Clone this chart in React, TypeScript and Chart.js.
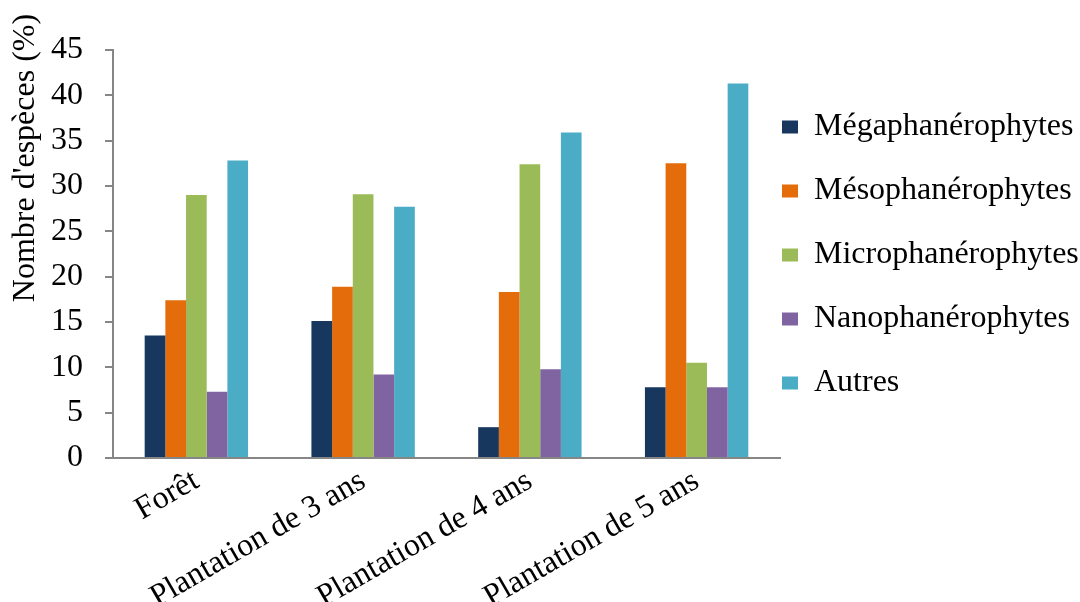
import React, { useEffect, useRef } from 'react';
import { Chart, registerables } from 'chart.js';

Chart.register(...registerables);

const categories = ['Forêt', 'Plantation de 3 ans', 'Plantation de 4 ans', 'Plantation de 5 ans'];
const seriesNames = ['Mégaphanérophytes', 'Mésophanérophytes', 'Microphanérophytes', 'Nanophanérophytes', 'Autres'];
const megaphanerophytes = [13.5, 15.1, 3.4, 7.8];
const mesophanerophytes = [17.4, 18.9, 18.3, 32.5];
const microphanerophytes = [29.0, 29.1, 32.4, 10.5];
const nanophanerophytes = [7.3, 9.2, 9.8, 7.8];
const autres = [32.8, 27.7, 35.9, 41.3];
const seriesColors = ['#17375E', '#E46C0A', '#9BBB59', '#8064A2', '#4BACC6'];
const yMin = 0;
const yMax = 45;
const yStep = 5;
const yTitle = "Nombre d'espèces (%)";

const FONT = '"Liberation Serif", "Times New Roman", serif';
const AXIS_GREY = '#868686';

const yTitlePlugin = {
  id: 'yTitleCustom',
  afterDraw(chart: any) {
    const ctx = chart.ctx;
    ctx.save();
    ctx.translate(34, 158);
    ctx.rotate(-Math.PI / 2);
    ctx.font = `32px ${FONT}`;
    ctx.fillStyle = '#000000';
    ctx.textAlign = 'center';
    ctx.textBaseline = 'alphabetic';
    ctx.fillText(yTitle, 0, 0);
    ctx.restore();
  },
};

export default function App() {
  const canvasRef = useRef<HTMLCanvasElement | null>(null);

  useEffect(() => {
    if (!canvasRef.current) return;
    const seriesValues = [megaphanerophytes, mesophanerophytes, microphanerophytes, nanophanerophytes, autres];
    const chart = new Chart(canvasRef.current, {
      type: 'bar',
      data: {
        labels: categories,
        datasets: seriesNames.map((name, i) => ({
          label: name,
          data: seriesValues[i],
          backgroundColor: seriesColors[i],
          borderWidth: 0,
          categoryPercentage: 0.62,
          barPercentage: 1.0,
        })),
      },
      options: {
        animation: false,
        responsive: true,
        maintainAspectRatio: false,
        layout: { padding: { top: 50, left: 0, right: 0, bottom: 0 } },
        plugins: {
          tooltip: { enabled: false },
          legend: {
            display: true,
            position: 'right',
            align: 'start',
            maxWidth: 300,
            title: { display: true, text: '', font: { size: 10, lineHeight: 1 }, padding: { top: 49, bottom: 0 } },
            labels: {
              boxWidth: 16,
              boxHeight: 13,
              padding: 2,
              color: '#000000',
              font: { family: FONT, size: 32, lineHeight: 62 / 32 },
              generateLabels: (chart: any) =>
                Chart.defaults.plugins.legend.labels.generateLabels(chart).map((l: any) => ({ ...l, text: [l.text] })),
            },
          },
        },
        scales: {
          x: {
            grid: { display: false, drawTicks: false },
            border: { display: true, color: AXIS_GREY, width: 2 },
            ticks: {
              autoSkip: false,
              maxRotation: 30,
              minRotation: 30,
              padding: 4,
              color: '#000000',
              font: { family: FONT, size: 32 },
            },
            afterFit: (scale: any) => {
              scale.height = 144;
            },
          },
          y: {
            min: yMin,
            max: yMax,
            grid: { display: true, drawOnChartArea: false, drawTicks: true, tickLength: 8, color: AXIS_GREY, lineWidth: 2 },
            border: { display: true, color: AXIS_GREY, width: 2 },
            ticks: {
              stepSize: yStep,
              padding: 22,
              color: '#000000',
              font: { family: FONT, size: 32 },
            },
            afterFit: (scale: any) => {
              scale.width = 113;
            },
          },
        },
      },
      plugins: [yTitlePlugin],
    });
    return () => chart.destroy();
  }, []);

  return (
    <div style={{ position: 'absolute', left: 0, top: 0, width: 1080, height: 602, background: '#ffffff' }}>
      <canvas ref={canvasRef} />
    </div>
  );
}
